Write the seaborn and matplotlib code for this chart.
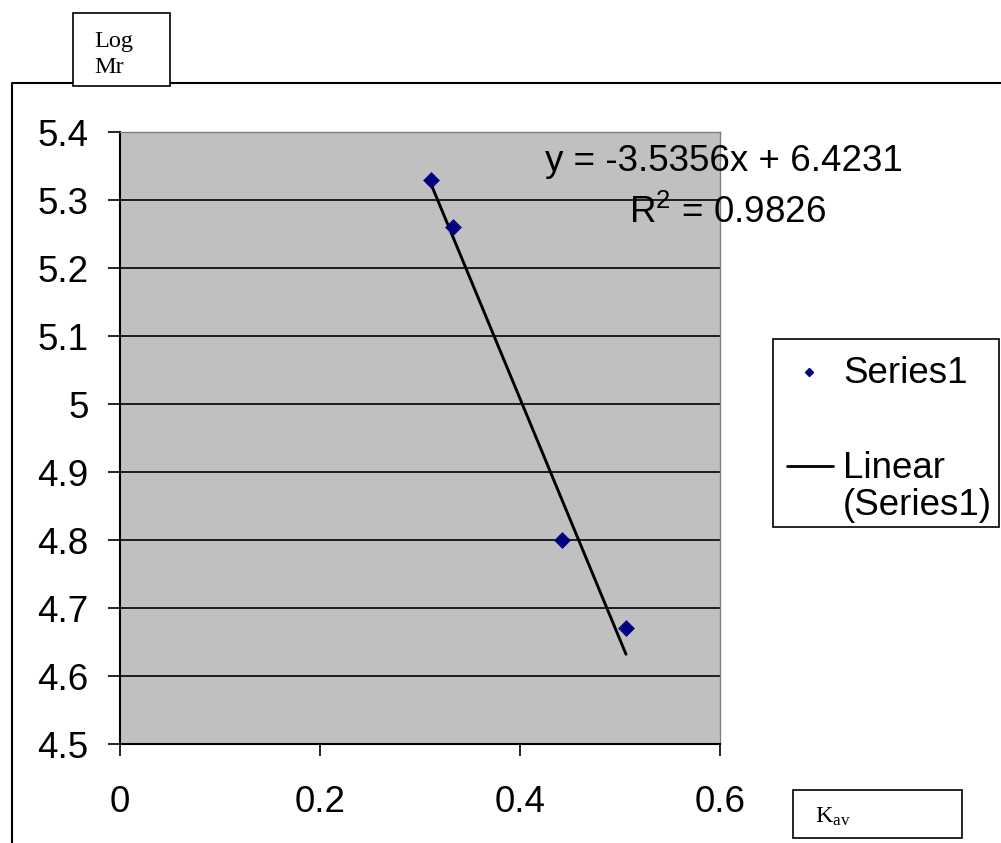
"""
Gel filtration calibration: Log Mr vs Kav with linear trendline
"""

import matplotlib
matplotlib.use("Agg")
import matplotlib.pyplot as plt
import seaborn as sns
import numpy as np
from matplotlib.patches import Rectangle
from matplotlib.lines import Line2D

# data
kav = [0.311, 0.333, 0.442, 0.506]
log_mr = [5.33, 5.26, 4.80, 4.67]
x_ticks = [0, 0.2, 0.4, 0.6]
x_tick_labels = ["0", "0.2", "0.4", "0.6"]
y_ticks = [4.5, 4.6, 4.7, 4.8, 4.9, 5.0, 5.1, 5.2, 5.3, 5.4]
y_tick_labels = ["4.5", "4.6", "4.7", "4.8", "4.9", "5", "5.1", "5.2", "5.3", "5.4"]
eq_text = "y = -3.5356x + 6.4231"
r2_text = r"R$^{\mathregular{2}}$ = 0.9826"

sns.set_theme(style="white")
plt.rcParams['font.family'] = ['Liberation Sans', 'DejaVu Sans']
plt.rcParams['text.color'] = 'black'
plt.rcParams['xtick.color'] = 'black'
plt.rcParams['ytick.color'] = 'black'

W, H = 1001, 843
FS = 26.5


def fx(px):
    return px / W


def fy(py):
    return 1 - py / H


fig = plt.figure(figsize=(W / 100, H / 100), dpi=100)
fig.patch.set_facecolor('white')

# outer chart frame (only left and top visible)
fig.add_artist(Line2D([fx(12), fx(12), fx(1001)], [fy(843), fy(83), fy(83)],
                      color='black', lw=1.5, zorder=1))

ax = fig.add_axes([fx(120), fy(744), fx(720) - fx(120), fy(132) - fy(744)])
ax.set_facecolor('#C0C0C0')

# trendline + points
sns.regplot(x=np.array(kav), y=np.array(log_mr), scatter=False, ci=None,
            color='black', line_kws={'lw': 2.1, 'zorder': 4}, ax=ax)
sns.scatterplot(x=kav, y=log_mr, marker='D', s=65, color='#000080',
                edgecolor='#000080', linewidth=0.5, zorder=5, ax=ax)

ax.set_xlim(0, 0.6)
ax.set_ylim(4.5, 5.4)
ax.set_xticks(x_ticks)
ax.set_xticklabels(x_tick_labels)
ax.set_yticks(y_ticks)
ax.set_yticklabels(y_tick_labels)
ax.set_xlabel('')
ax.set_ylabel('')

ax.yaxis.grid(True, color='black', lw=1.2)
ax.xaxis.grid(False)
ax.set_axisbelow(True)

for side in ['top', 'right']:
    ax.spines[side].set_color('#808080')
    ax.spines[side].set_linewidth(1.0)
for side in ['left', 'bottom']:
    ax.spines[side].set_color('black')
    ax.spines[side].set_linewidth(1.5)

ax.tick_params(axis='y', direction='out', length=8.5, width=1.2, color='black',
               labelsize=FS, pad=14, left=True)
ax.tick_params(axis='x', direction='out', length=8.5, width=1.2, color='black',
               labelsize=FS, pad=21, bottom=True)

# trendline equation
fig.text(fx(724), fy(171), eq_text, ha='center', va='baseline', fontsize=FS)
fig.text(fx(727), fy(223), r2_text, ha='center', va='baseline', fontsize=FS)

# axis title boxes
fig.add_artist(Rectangle((fx(73), fy(86)), fx(170) - fx(73), fy(13) - fy(86),
                         facecolor='white', edgecolor='black', lw=1.2, zorder=3))
fig.text(fx(94), fy(47), 'Log', fontsize=17.5, family=['Liberation Serif'],
         va='baseline', zorder=4)
fig.text(fx(94), fy(73), 'Mr', fontsize=17.5, family=['Liberation Serif'],
         va='baseline', zorder=4)

fig.add_artist(Rectangle((fx(793), fy(838)), fx(962) - fx(793), fy(790) - fy(838),
                         facecolor='white', edgecolor='black', lw=1.2, zorder=3))
fig.text(fx(815), fy(823), r'$\mathregular{K_{av}}$', fontsize=17.5,
         family=['Liberation Serif'], va='baseline', zorder=4)

# legend
fig.add_artist(Rectangle((fx(773), fy(527)), fx(999) - fx(773), fy(339) - fy(527),
                         facecolor='white', edgecolor='black', lw=1.2, zorder=3))
fig.add_artist(Line2D([fx(809)], [fy(372)], marker='D', ms=3.8, color='#000080',
                      lw=0, zorder=4))
fig.text(fx(843), fy(383), 'Series1', fontsize=FS, va='baseline', zorder=4)
fig.add_artist(Line2D([fx(787), fx(833)], [fy(466), fy(466)], color='black',
                      lw=2.0, zorder=4))
fig.text(fx(843), fy(478), 'Linear', fontsize=FS, va='baseline', zorder=4)
fig.text(fx(843), fy(515), '(Series1)', fontsize=FS, va='baseline', zorder=4)

fig.savefig('out.png', dpi=100)
